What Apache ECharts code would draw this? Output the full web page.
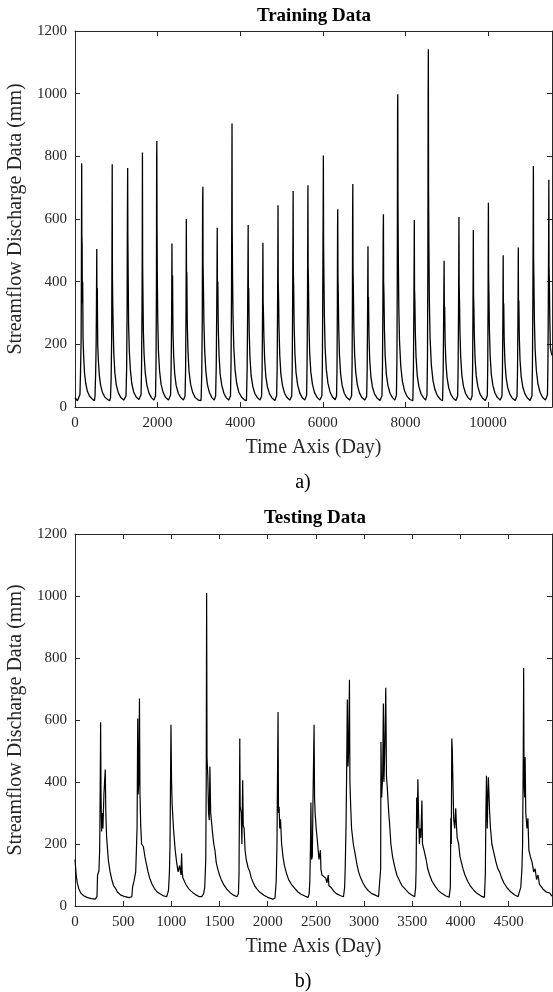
<!DOCTYPE html>
<html>
<head>
<meta charset="utf-8">
<script src="https://cdn.jsdelivr.net/npm/echarts@6/dist/echarts.min.js"></script>
<style>
html,body{margin:0;padding:0;background:#fff;}
#chart{width:553px;height:992px;}
</style>
</head>
<body>
<div id="chart"></div>
<script>
// ---- Data (day, streamflow) ----
const trainData = [
[0,30],[20,24],[60,20],[100,22],[120,40],[135,120],[148,210],[155,430],[162,778],[166,545],[172,520],[178,330],[186,400],[195,220],[210,160],[230,110],[260,75],[300,50],[350,35],[420,25],[470,20],
[485,35],[500,110],[512,200],[520,330],[527,504],[532,300],[540,380],[550,200],[565,150],[590,100],[620,70],[660,48],[720,32],[790,24],[840,20],
[860,30],[875,90],[888,220],[895,500],[901,775],[906,420],[914,330],[925,250],[940,170],[965,110],[1000,70],[1050,45],[1110,30],[1180,22],[1220,20],
[1235,35],[1250,120],[1262,320],[1268,580],[1275,763],[1280,540],[1288,420],[1298,260],[1315,180],[1340,120],[1375,75],[1420,48],[1480,32],[1550,24],[1590,20],
[1600,40],[1612,130],[1622,300],[1628,480],[1633,812],[1638,450],[1646,350],[1656,240],[1672,170],[1700,110],[1740,70],[1790,45],[1850,30],[1910,22],[1945,20],
[1950,35],[1962,140],[1972,380],[1977,785],[1981,849],[1986,580],[1994,400],[2004,280],[2020,180],[2048,115],[2085,72],[2135,46],[2195,30],[2265,22],[2310,20],
[2315,38],[2328,130],[2338,260],[2343,380],[2348,522],[2353,330],[2362,420],[2372,240],[2390,160],[2415,105],[2450,68],[2500,44],[2560,30],[2625,22],[2660,20],
[2665,35],[2678,120],[2688,300],[2696,600],[2701,380],[2708,430],[2718,270],[2735,180],[2760,115],[2800,72],[2850,46],[2910,30],[2985,22],[3050,20],
[3055,30],[3070,110],[3082,280],[3090,660],[3096,703],[3101,450],[3110,380],[3122,270],[3140,180],[3168,115],[3205,72],[3255,46],[3315,30],[3370,22],[3400,20],
[3405,35],[3420,130],[3432,310],[3439,430],[3444,572],[3449,360],[3458,400],[3470,250],[3488,165],[3515,105],[3555,68],[3605,44],[3660,30],[3720,22],[3760,20],
[3765,35],[3778,140],[3790,360],[3797,665],[3802,905],[3807,560],[3815,420],[3826,290],[3845,190],[3875,120],[3915,75],[3965,48],[4030,32],[4100,23],[4150,20],
[4155,38],[4168,120],[4180,300],[4187,440],[4193,581],[4198,350],[4206,380],[4218,240],[4236,160],[4265,100],[4305,66],[4355,43],[4415,30],[4480,22],[4515,20],
[4518,34],[4530,110],[4540,270],[4545,400],[4550,524],[4555,340],[4563,300],[4575,220],[4593,150],[4620,98],[4660,64],[4710,42],[4770,29],[4840,21],[4880,19],
[4882,36],[4895,125],[4905,320],[4911,470],[4916,644],[4921,400],[4929,350],[4940,250],[4958,165],[4985,105],[5025,68],[5075,44],[5135,30],[5200,22],[5245,20],
[5248,35],[5260,130],[5270,340],[5276,500],[5282,689],[5287,430],[5295,380],[5306,260],[5325,170],[5352,110],[5392,70],[5442,45],[5500,30],[5565,22],[5605,20],
[5608,38],[5620,140],[5630,350],[5635,520],[5640,708],[5645,450],[5653,400],[5664,270],[5682,175],[5710,112],[5750,72],[5800,46],[5860,31],[5930,22],[5975,20],
[5978,36],[5990,140],[6000,380],[6008,600],[6014,803],[6019,520],[6027,420],[6038,290],[6056,190],[6085,120],[6125,76],[6175,48],[6235,32],[6300,23],[6330,20],
[6333,35],[6345,130],[6353,330],[6358,575],[6362,631],[6367,420],[6375,360],[6386,250],[6404,165],[6432,105],[6470,68],[6520,44],[6580,30],[6650,22],[6695,20],
[6698,36],[6710,140],[6718,360],[6722,600],[6727,712],[6732,440],[6740,380],[6751,260],[6770,170],[6798,110],[6838,70],[6888,45],[6948,30],[7015,22],[7060,20],
[7062,34],[7074,115],[7083,270],[7089,400],[7094,513],[7099,320],[7107,350],[7118,230],[7136,150],[7164,98],[7202,64],[7252,42],[7312,29],[7385,21],[7430,19],
[7433,36],[7445,125],[7455,320],[7462,545],[7468,615],[7473,400],[7481,360],[7492,250],[7510,165],[7538,105],[7578,68],[7628,44],[7688,30],[7745,22],[7780,20],
[7783,38],[7795,150],[7804,420],[7811,950],[7816,998],[7821,640],[7829,480],[7840,320],[7858,210],[7888,130],[7928,82],[7978,52],[8040,34],[8110,24],[8180,20],
[8183,36],[8195,125],[8205,310],[8211,460],[8216,597],[8221,380],[8229,340],[8240,240],[8258,160],[8286,102],[8326,66],[8376,43],[8436,30],[8490,22],[8520,20],
[8523,38],[8535,160],[8544,450],[8551,990],[8556,1142],[8561,700],[8569,520],[8580,340],[8598,220],[8628,135],[8668,85],[8718,54],[8780,35],[8850,24],[8900,20],
[8903,34],[8915,110],[8925,260],[8932,380],[8938,467],[8943,300],[8951,320],[8962,210],[8980,145],[9008,95],[9048,62],[9098,41],[9158,28],[9225,21],[9262,19],
[9265,35],[9277,125],[9287,310],[9292,450],[9297,606],[9302,390],[9310,340],[9321,240],[9339,160],[9367,102],[9407,66],[9457,43],[9517,30],[9580,22],[9612,20],
[9615,35],[9627,120],[9636,300],[9641,430],[9645,565],[9650,360],[9658,320],[9669,230],[9687,155],[9715,100],[9755,65],[9805,42],[9865,29],[9935,21],[9980,19],
[9983,36],[9994,130],[10002,330],[10006,530],[10010,652],[10015,420],[10023,360],[10034,250],[10052,165],[10080,105],[10120,68],[10170,44],[10230,30],[10295,22],[10335,20],
[10338,34],[10350,110],[10360,270],[10364,380],[10368,484],[10373,300],[10381,330],[10392,215],[10410,145],[10438,95],[10478,62],[10528,41],[10588,28],[10660,21],[10700,19],
[10703,34],[10715,115],[10725,275],[10730,390],[10734,509],[10739,320],[10747,340],[10758,225],[10776,150],[10804,97],[10844,63],[10894,42],[10954,29],[11020,21],[11062,19],
[11065,36],[11077,140],[11087,350],[11094,565],[11099,769],[11104,480],[11112,400],[11123,280],[11141,185],[11170,118],[11210,74],[11260,47],[11320,31],[11390,22],[11435,20],
[11440,38],[11452,140],[11462,360],[11468,520],[11473,725],[11478,450],[11486,400],[11497,280],[11510,190],[11530,175],[11550,165]
];

const testData = [
[0,150],[6,125],[14,95],[25,72],[40,55],[60,42],[90,33],[130,27],[170,24],[210,22],[228,30],[234,100],[248,112],[256,180],[262,400],[266,593],[270,360],[276,240],[282,300],[290,250],[300,360],[314,440],[320,300],[328,223],[346,148],[364,110],[383,84],[400,66],[420,57],[440,45],[475,35],[520,30],[560,27],[590,30],
[598,62],[612,80],[630,110],[644,250],[651,605],[655,360],[662,400],[669,669],[674,364],[682,260],[691,200],[710,191],[725,160],[740,137],[758,110],[776,89],[800,70],[823,57],[850,46],[878,40],[915,33],[952,30],
[970,50],[980,110],[986,200],[996,585],[1002,400],[1008,330],[1022,250],[1040,180],[1055,140],[1070,110],[1085,130],[1100,100],[1106,170],[1112,110],[1120,90],[1150,70],[1178,56],[1205,48],[1235,40],[1260,35],[1290,30],[1315,30],
[1335,40],[1346,60],[1357,150],[1362,420],[1366,1010],[1370,480],[1378,420],[1386,300],[1393,277],[1400,450],[1408,300],[1426,240],[1440,200],[1452,180],[1466,140],[1481,120],[1500,100],[1518,85],[1545,68],[1573,55],[1610,43],[1646,35],[1680,30],
[1696,40],[1702,100],[1706,300],[1710,540],[1714,320],[1725,300],[1732,200],[1740,406],[1746,260],[1755,250],[1765,180],[1777,150],[1795,125],[1814,110],[1830,90],[1843,80],[1865,65],[1887,55],[1920,44],[1960,35],[2000,28],[2052,22],
[2075,25],[2088,80],[2096,200],[2101,400],[2107,626],[2112,300],[2118,320],[2125,250],[2133,280],[2144,200],[2158,160],[2173,130],[2195,105],[2217,85],[2245,70],[2272,60],[2310,46],[2346,38],[2385,32],[2419,28],
[2430,40],[2437,80],[2444,200],[2448,334],[2455,150],[2463,160],[2470,350],[2481,585],[2486,350],[2492,300],[2503,250],[2518,200],[2532,150],[2547,180],[2552,120],[2562,100],[2580,95],[2602,90],[2615,75],[2628,100],[2635,65],[2657,60],[2685,48],[2712,40],[2750,34],[2786,30],
[2798,60],[2804,120],[2812,250],[2818,400],[2826,666],[2833,450],[2840,500],[2848,730],[2853,400],[2860,330],[2870,250],[2888,200],[2906,170],[2925,135],[2943,110],[2965,90],[2987,75],[3015,60],[3042,50],[3080,40],[3116,35],[3150,30],
[3165,35],[3172,120],[3175,529],[3182,350],[3193,420],[3200,653],[3206,400],[3214,500],[3225,704],[3232,420],[3241,380],[3256,300],[3268,250],[3278,200],[3295,160],[3315,130],[3340,100],[3370,80],[3395,65],[3425,55],[3460,43],[3498,35],[3525,30],
[3535,60],[3540,120],[3546,350],[3552,250],[3558,409],[3565,300],[3574,200],[3582,250],[3589,220],[3600,340],[3606,200],[3622,180],[3644,150],[3660,120],[3680,100],[3705,80],[3735,65],[3770,50],[3809,40],[3845,33],[3882,28],
[3895,60],[3900,283],[3905,200],[3910,540],[3915,510],[3922,400],[3930,280],[3940,250],[3951,315],[3958,260],[3966,220],[3981,200],[3995,160],[4010,140],[4028,118],[4047,100],[4075,80],[4102,65],[4140,50],[4175,40],[4215,32],[4249,28],
[4258,100],[4264,300],[4270,420],[4278,250],[4285,360],[4290,415],[4297,410],[4303,300],[4312,250],[4326,200],[4340,180],[4355,160],[4370,140],[4388,120],[4406,110],[4428,90],[4450,75],[4485,58],[4524,45],[4560,36],[4597,30],
[4615,35],[4626,60],[4638,120],[4645,200],[4652,500],[4656,768],[4660,400],[4666,350],[4671,481],[4678,300],[4690,250],[4700,283],[4710,180],[4725,160],[4744,140],[4760,110],[4775,120],[4790,85],[4805,100],[4820,70],[4836,75],[4855,55],[4872,60],[4890,45],[4909,40],[4925,42],[4950,32]
];

const yTicks = [0, 200, 400, 600, 800, 1000, 1200];
const trainXTicks = [0, 2000, 4000, 6000, 8000, 10000];
const testXTicks = [0, 500, 1000, 1500, 2000, 2500, 3000, 3500, 4000, 4500];
const trainXMax = 11550;
const testXMax = 4950;

const FONT = '"Liberation Serif", "Times New Roman", serif';
const AX = '#262626';

function xAxisMain(grid, max, step, ticks) {
  return {
    type: 'value', gridIndex: grid, min: 0, max: max, interval: step, position: 'bottom',
    axisLine: { show: true, onZero: false, lineStyle: { color: AX, width: 1 } },
    axisTick: { show: true, inside: true, length: 5, lineStyle: { color: AX, width: 1 } },
    axisLabel: {
      show: true, margin: 9, fontFamily: FONT, fontSize: 15, color: AX, showMaxLabel: false,
      formatter: v => (ticks.indexOf(v) >= 0 ? String(v) : '')
    },
    splitLine: { show: false },
    name: 'Time Axis (Day)', nameLocation: 'middle', nameGap: 31,
    nameTextStyle: { fontFamily: FONT, fontSize: 20, color: AX }
  };
}
function xAxisTop(grid, max, step) {
  return {
    type: 'value', gridIndex: grid, min: 0, max: max, interval: step, position: 'top',
    axisLine: { show: true, onZero: false, lineStyle: { color: AX, width: 1 } },
    axisTick: { show: true, inside: true, length: 5, lineStyle: { color: AX, width: 1 } },
    axisLabel: { show: false }, splitLine: { show: false }
  };
}
function yAxisMain(grid) {
  return {
    type: 'value', gridIndex: grid, min: yTicks[0], max: yTicks[yTicks.length - 1], interval: 200, position: 'left',
    axisLine: { show: true, onZero: false, lineStyle: { color: AX, width: 1 } },
    axisTick: { show: true, inside: true, length: 5, lineStyle: { color: AX, width: 1 } },
    axisLabel: {
      show: true, margin: 8, fontFamily: FONT, fontSize: 15, color: AX,
      formatter: v => (yTicks.indexOf(v) >= 0 ? String(v) : '')
    },
    splitLine: { show: false },
    name: 'Streamflow Discharge Data (mm)', nameLocation: 'middle', nameGap: 45, nameRotate: 90,
    nameTextStyle: { fontFamily: FONT, fontSize: 20, color: AX }
  };
}
function yAxisRight(grid) {
  return {
    type: 'value', gridIndex: grid, min: 0, max: 1200, interval: 200, position: 'right',
    axisLine: { show: true, onZero: false, lineStyle: { color: AX, width: 1 } },
    axisTick: { show: true, inside: true, length: 5, lineStyle: { color: AX, width: 1 } },
    axisLabel: { show: false }, splitLine: { show: false }
  };
}

const chart = echarts.init(document.getElementById('chart'), null, { renderer: 'canvas' });
chart.setOption({
  animation: false,
  backgroundColor: '#fff',
  grid: [
    { left: 75, top: 31, width: 477, height: 376, containLabel: false, outerBoundsMode: 'none' },
    { left: 75, top: 534, width: 477, height: 372, containLabel: false, outerBoundsMode: 'none' }
  ],
  xAxis: [
    xAxisMain(0, trainXMax, 2000, trainXTicks),
    xAxisTop(0, trainXMax, 2000),
    xAxisMain(1, testXMax, 500, testXTicks),
    xAxisTop(1, testXMax, 500)
  ],
  yAxis: [yAxisMain(0), yAxisRight(0), yAxisMain(1), yAxisRight(1)],
  series: [
    {
      type: 'line', xAxisIndex: 0, yAxisIndex: 0, data: trainData,
      showSymbol: false, symbol: 'none', silent: true,
      lineStyle: { color: '#000', width: 1.3 }
    },
    {
      type: 'line', xAxisIndex: 2, yAxisIndex: 2, data: testData,
      showSymbol: false, symbol: 'none', silent: true,
      lineStyle: { color: '#000', width: 1.2 }
    }
  ],
  graphic: [
    { type: 'text', x: 314, y: 16, style: { text: 'Training Data', fill: '#000', font: 'bold 19px ' + FONT, align: 'center', verticalAlign: 'middle' } },
    { type: 'text', x: 303, y: 483, style: { text: 'a)', fill: '#000', font: '20px ' + FONT, align: 'center', verticalAlign: 'middle' } },
    { type: 'text', x: 315, y: 518, style: { text: 'Testing Data', fill: '#000', font: 'bold 19px ' + FONT, align: 'center', verticalAlign: 'middle' } },
    { type: 'text', x: 303, y: 982, style: { text: 'b)', fill: '#000', font: '20px ' + FONT, align: 'center', verticalAlign: 'middle' } }
  ]
});
</script>
</body>
</html>
